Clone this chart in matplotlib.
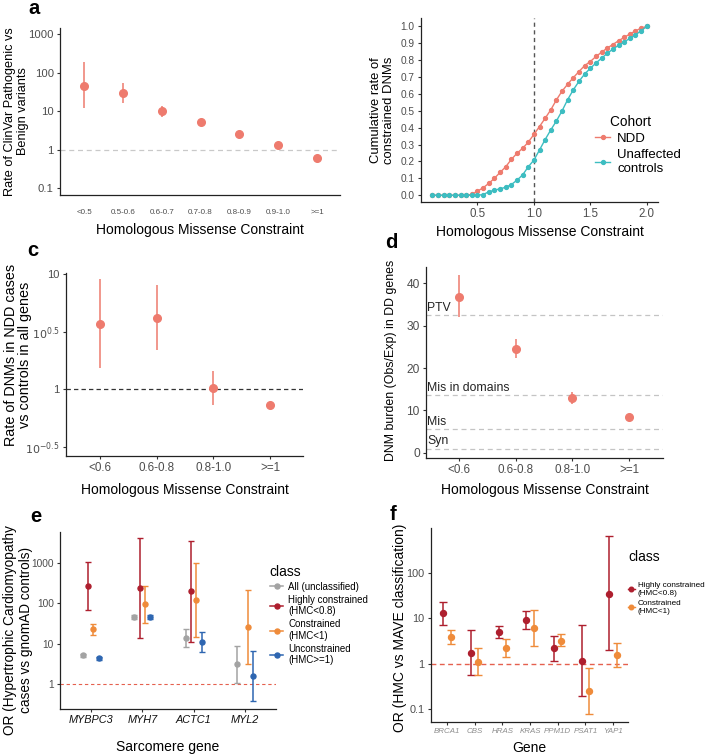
import numpy as np
import matplotlib.pyplot as plt
from matplotlib.lines import Line2D

plt.rcParams['font.family'] = ['Liberation Sans', 'DejaVu Sans']

# panel a: ClinVar pathogenic vs benign rate per HMC bin
bins_a = ['<0.5', '0.5-0.6', '0.6-0.7', '0.7-0.8', '0.8-0.9', '0.9-1.0', '>=1']
clinvar_rate = [45, 30, 10, 5.2, 2.6, 1.35, 0.62]
clinvar_lo = [12, 16.5, 7, 4.5, 2.4, 1.25, 0.58]
clinvar_hi = [190, 55, 13.5, 6.0, 2.9, 1.45, 0.67]

# panel b: cumulative rate of constrained DNMs
hmc_grid = [0.1, 0.15, 0.2, 0.25, 0.3, 0.35, 0.4, 0.45, 0.5, 0.55, 0.6, 0.65, 0.7,
            0.75, 0.8, 0.85, 0.9, 0.95, 1.0, 1.05, 1.1, 1.15, 1.2, 1.25, 1.3, 1.35,
            1.4, 1.45, 1.5, 1.55, 1.6, 1.65, 1.7, 1.75, 1.8, 1.85, 1.9, 1.95, 2.0]
cum_ndd = [0, 0, 0, 0, 0, 0, 0, 0.005, 0.024, 0.044, 0.07, 0.10, 0.135,
           0.168, 0.212, 0.248, 0.278, 0.314, 0.36, 0.407, 0.456, 0.506, 0.565, 0.617, 0.658, 0.697,
           0.733, 0.768, 0.792, 0.822, 0.847, 0.872, 0.893, 0.915, 0.935, 0.955, 0.973, 0.99, 1.0]
cum_ctrl = [0, 0, 0, 0, 0, 0, 0, 0, 0, 0.004, 0.02, 0.03, 0.038,
            0.047, 0.063, 0.089, 0.12, 0.168, 0.208, 0.268, 0.33, 0.387, 0.44, 0.5, 0.567, 0.625,
            0.675, 0.718, 0.752, 0.783, 0.812, 0.84, 0.866, 0.888, 0.908, 0.929, 0.95, 0.974, 1.0]

# panel c: DNM rate NDD vs controls
bins_cd = ['<0.6', '0.6-0.8', '0.8-1.0', '>=1']
dnm_rate = [3.7, 4.2, 1.02, 0.73]
dnm_lo = [1.52, 2.2, 0.73, 0.70]
dnm_hi = [9.0, 8.0, 1.43, 0.77]

# panel d: DNM burden in DD genes
burden = [36.7, 24.5, 12.9, 8.5]
burden_lo = [32, 22.4, 11.6, 8.2]
burden_hi = [41.9, 26.9, 14.3, 8.8]
ref_names = ['PTV', 'Mis in domains', 'Mis', 'Syn']
ref_values = [32.5, 13.6, 5.6, 1.0]

# panel e: HCM odds ratios by sarcomere gene
genes_e = ['MYBPC3', 'MYH7', 'ACTC1', 'MYL2']
classes_e = ['All (unclassified)', 'Highly constrained\n(HMC<0.8)',
             'Constrained\n(HMC<1)', 'Unconstrained\n(HMC>=1)']
or_all = [5.1, 47, 14, 3.1]
or_all_lo = [4.7, 42, 8.4, 1.04]
or_all_hi = [5.6, 52, 23.5, 8.6]
or_high = [270, 236, 204, np.nan]
or_high_lo = [69, 13.6, 10.8, np.nan]
or_high_hi = [1050, 4150, 3600, np.nan]
or_con = [22.8, 95, 121, 26.5]
or_con_lo = [16.2, 32, 14.4, 3.15]
or_con_hi = [30, 275, 990, 218]
or_uncon = [4.35, 47, 10.8, 1.6]
or_uncon_lo = [4.0, 42, 6.2, 0.38]
or_uncon_hi = [4.8, 52, 19, 6.7]

# panel f: HMC vs MAVE odds ratios
genes_f = ['BRCA1', 'CBS', 'HRAS', 'KRAS', 'PPM1D', 'PSAT1', 'YAP1']
classes_f = ['Highly constrained\n(HMC<0.8)', 'Constrained\n(HMC<1)']
mave_high = [12.9, 1.72, 4.9, 9.2, 2.2, 1.16, 34.5]
mave_high_lo = [7.1, 0.56, 3.6, 5.9, 1.15, 0.19, 1.97]
mave_high_hi = [23.3, 5.4, 6.6, 14.3, 4.15, 7.2, 635]
mave_con = [3.9, 1.09, 2.2, 6.1, 3.2, 0.245, 1.53]
mave_con_lo = [2.7, 0.55, 1.4, 2.4, 2.4, 0.078, 0.83]
mave_con_hi = [5.5, 2.2, 3.4, 15.3, 4.4, 0.79, 2.9]

salmon = '#EE7B6E'
teal = '#3DBDC1'
grey_c = '#A3A3A3'
red_c = '#AE1F2E'
orange_c = '#EF8B3A'
blue_c = '#2E66B1'
tick_col = '#4D4D4D'

W, H = 708, 754
fig = plt.figure(figsize=(W / 100, H / 100), dpi=100)


def add_ax(left, top, right, bottom):
    return fig.add_axes([left / W, 1 - bottom / H, (right - left) / W, (bottom - top) / H])


def style(ax, tick_size=8):
    for s in ['top', 'right']:
        ax.spines[s].set_visible(False)
    for s in ['left', 'bottom']:
        ax.spines[s].set_color('#222222')
        ax.spines[s].set_linewidth(0.9)
    ax.tick_params(length=2.5, width=0.8, color='#333333', labelcolor=tick_col,
                   labelsize=tick_size, pad=2)
    ax.minorticks_off()


def yerr(vals, lo, hi):
    vals, lo, hi = np.asarray(vals, float), np.asarray(lo, float), np.asarray(hi, float)
    return np.vstack([vals - lo, hi - vals])


# ---- a ----
ax = add_ax(60, 28, 340, 195)
xa = np.arange(len(bins_a))
ax.axhline(1, color='#C9C9C9', lw=0.9, ls=(0, (4, 3)))
ax.errorbar(xa, clinvar_rate, yerr=yerr(clinvar_rate, clinvar_lo, clinvar_hi), fmt='o',
            color=salmon, ms=5.5, elinewidth=1.1, capsize=0)
ax.set_yscale('log')
ax.set_ylim(10 ** -1.18, 10 ** 3.16)
ax.set_xlim(-0.62, 6.59)
ax.set_yticks([0.1, 1, 10, 100, 1000])
ax.set_yticklabels(['0.1', '1', '10', '100', '1000'])
ax.set_xticks(xa)
ax.set_xticklabels(bins_a)
style(ax, 8.1)
ax.tick_params(axis='x', labelsize=5.8, length=0, pad=10)
ax.set_ylabel('Rate of ClinVar Pathogenic vs\nBenign variants', fontsize=9.2, linespacing=1.05)
ax.yaxis.set_label_coords(-0.112, 0.5)
ax.set_xlabel('Homologous Missense Constraint', fontsize=10)
ax.xaxis.set_label_coords(0.5, -0.17)

# ---- b ----
ax = add_ax(421, 18, 658, 202)
ax.axvline(1.0, color='#555555', lw=1.0, ls=(0, (3, 2.5)))
ax.plot(hmc_grid, cum_ndd, '-o', color=salmon, ms=2.8, lw=1.0, label='NDD')
ax.plot(hmc_grid, cum_ctrl, '-o', color=teal, ms=2.8, lw=1.0, label='Unaffected\ncontrols')
ax.set_xlim(0.0, 2.1)
ax.set_ylim(-0.04, 1.05)
ax.set_yticks([0.0, 0.1, 0.2, 0.3, 0.4, 0.5, 0.6, 0.7, 0.8, 0.9, 1.0])
ax.set_xticks([0.5, 1.0, 1.5, 2.0])
style(ax, 7.3)
ax.tick_params(axis='x', labelsize=8.3)
ax.set_ylabel('Cumulative rate of\nconstrained DNMs', fontsize=9.4, linespacing=1.1)
ax.yaxis.set_label_coords(-0.11, 0.5)
ax.set_xlabel('Homologous Missense Constraint', fontsize=10)
ax.xaxis.set_label_coords(0.5, -0.125)
ax.legend(loc='upper left', bbox_to_anchor=(588 / W, 1 - 108 / H),
          bbox_transform=fig.transFigure, frameon=False, fontsize=9.5,
          title='    Cohort', title_fontsize=9.8, handlelength=1.2, handletextpad=0.5,
          labelspacing=0.3, borderpad=0, alignment='left')

# ---- c ----
ax = add_ax(66, 273, 303, 456)
xc = np.arange(len(bins_cd))
ax.axhline(1, color='#333333', lw=0.9, ls=(0, (3.5, 2.5)))
ax.errorbar(xc, dnm_rate, yerr=yerr(dnm_rate, dnm_lo, dnm_hi), fmt='o',
            color=salmon, ms=5.5, elinewidth=1.1, capsize=0)
ax.set_yscale('log')
ax.set_ylim(10 ** -0.58, 10 ** 1.01)
ax.set_xlim(-0.6, 3.58)
ax.set_yticks([10 ** -0.5, 1, 10 ** 0.5, 10])
ax.set_yticklabels(['$10^{-0.5}$', '1', '$10^{0.5}$', '10'])
ax.set_xticks(xc)
ax.set_xticklabels(bins_cd)
style(ax, 8)
ax.tick_params(axis='x', labelsize=8.4)
ax.set_ylabel('Rate of DNMs in NDD cases\nvs controls in all genes', fontsize=10.4, linespacing=1.0)
ax.yaxis.set_label_coords(-0.142, 0.55)
ax.set_xlabel('Homologous Missense Constraint', fontsize=10)
ax.xaxis.set_label_coords(0.5, -0.148)

# ---- d ----
ax = add_ax(426, 267, 663, 458)
xd = np.arange(len(bins_cd))
for name, val in zip(ref_names, ref_values):
    ax.axhline(val, color='#C4C4C4', lw=0.9, ls=(0, (4, 3)))
    ax.text(0.005, val + 0.3, name, transform=ax.get_yaxis_transform(), fontsize=8.8,
            color='#222222', va='bottom', ha='left')
ax.errorbar(xd, burden, yerr=yerr(burden, burden_lo, burden_hi), fmt='o',
            color=salmon, ms=5.5, elinewidth=1.1, capsize=0)
ax.set_ylim(-1.2, 43.8)
ax.set_xlim(-0.58, 3.6)
ax.set_yticks([0, 10, 20, 30, 40])
ax.set_xticks(xd)
ax.set_xticklabels(bins_cd)
style(ax, 8.6)
ax.tick_params(axis='x', labelsize=8.4)
ax.set_ylabel('DNM burden (Obs/Exp) in DD genes', fontsize=8.9)
ax.yaxis.set_label_coords(-0.122, 0.51)
ax.set_xlabel('Homologous Missense Constraint', fontsize=10)
ax.xaxis.set_label_coords(0.5, -0.131)

# ---- e ----
ax = add_ax(60, 532, 276, 709)
xe = np.arange(len(genes_e))
ax.axhline(1, color='#E5604E', lw=0.8, ls=(0, (3, 2.5)))
e_series = [(or_all, or_all_lo, or_all_hi, grey_c),
            (or_high, or_high_lo, or_high_hi, red_c),
            (or_con, or_con_lo, or_con_hi, orange_c),
            (or_uncon, or_uncon_lo, or_uncon_hi, blue_c)]
e_offsets = [-0.154, -0.051, 0.051, 0.154]
for (v, lo, hi, col), off in zip(e_series, e_offsets):
    ax.errorbar(xe + off, v, yerr=yerr(v, lo, hi), fmt='o', color=col, ms=3.6,
                elinewidth=1.1, capsize=2.2, capthick=1.0)
ax.set_yscale('log')
ax.set_ylim(10 ** -0.62, 10 ** 3.77)
ax.set_xlim(-0.6, 3.6)
ax.set_yticks([1, 10, 100, 1000])
ax.set_yticklabels(['1', '10', '100', '1000'])
ax.set_xticks(xe)
ax.set_xticklabels(genes_e, fontstyle='italic')
style(ax, 7.3)
ax.tick_params(axis='x', labelsize=7.8, labelcolor='#111111')
ax.set_ylabel('OR (Hypertrophic Cardiomyopathy\ncases vs gnomAD controls)', fontsize=9.8,
              linespacing=1.1)
ax.yaxis.set_label_coords(-0.127, 0.446)
ax.set_xlabel('Sarcomere gene', fontsize=10)
ax.xaxis.set_label_coords(0.5, -0.175)
handles_e = [Line2D([], [], color=c, marker='o', ms=3.6, lw=1.1) for (_, _, _, c) in e_series]
ax.legend(handles_e, classes_e, loc='upper left', bbox_to_anchor=(265 / W, 1 - 560 / H),
          bbox_transform=fig.transFigure, frameon=False, fontsize=7, title='class',
          title_fontsize=10, handlelength=1.4, handletextpad=0.5, labelspacing=0.3,
          borderpad=0, alignment='left')

# ---- f ----
ax = add_ax(431, 528, 628, 722)
xf = np.arange(len(genes_f))
ax.axhline(1, color='#E5604E', lw=1.0, ls=(0, (3.5, 2.5)))
f_series = [(mave_high, mave_high_lo, mave_high_hi, red_c),
            (mave_con, mave_con_lo, mave_con_hi, orange_c)]
f_offsets = [-0.13, 0.13]
for (v, lo, hi, col), off in zip(f_series, f_offsets):
    ax.errorbar(xf + off, v, yerr=yerr(v, lo, hi), fmt='o', color=col, ms=4.3,
                elinewidth=1.1, capsize=2.6, capthick=1.0)
ax.set_yscale('log')
ax.set_ylim(10 ** -1.29, 10 ** 2.99)
ax.set_xlim(-0.58, 6.54)
ax.set_yticks([0.1, 1, 10, 100])
ax.set_yticklabels(['0.1', '1', '10', '100'])
ax.set_xticks(xf)
ax.set_xticklabels(genes_f, fontstyle='italic')
style(ax, 7.8)
ax.tick_params(axis='x', labelsize=5.7, labelcolor='#8C8C8C')
ax.set_ylabel('OR (HMC vs MAVE classification)', fontsize=10)
ax.yaxis.set_label_coords(-0.122, 0.485)
ax.set_xlabel('Gene', fontsize=10)
ax.xaxis.set_label_coords(0.5, -0.097)
handles_f = [Line2D([], [], color=c, marker='o', ms=3.3, lw=1.0) for (_, _, _, c) in f_series]
leg = ax.legend(handles_f, classes_f, loc='upper left', bbox_to_anchor=(624 / W, 1 - 546 / H),
                bbox_transform=fig.transFigure, frameon=False, fontsize=5.9, title='class',
                title_fontsize=10, handlelength=0.8, handletextpad=0.4, labelspacing=0.35,
                borderpad=0, alignment='left')
leg._legend_box.sep = 13

# panel letters
for letter, x, y in [('a', 28, 14), ('c', 27, 256), ('d', 385, 248), ('e', 30, 522), ('f', 390, 520)]:
    fig.text(x / W, 1 - y / H, letter, fontsize=14.5, fontweight='bold', va='baseline', ha='left')

fig.savefig('out.png', dpi=100)
